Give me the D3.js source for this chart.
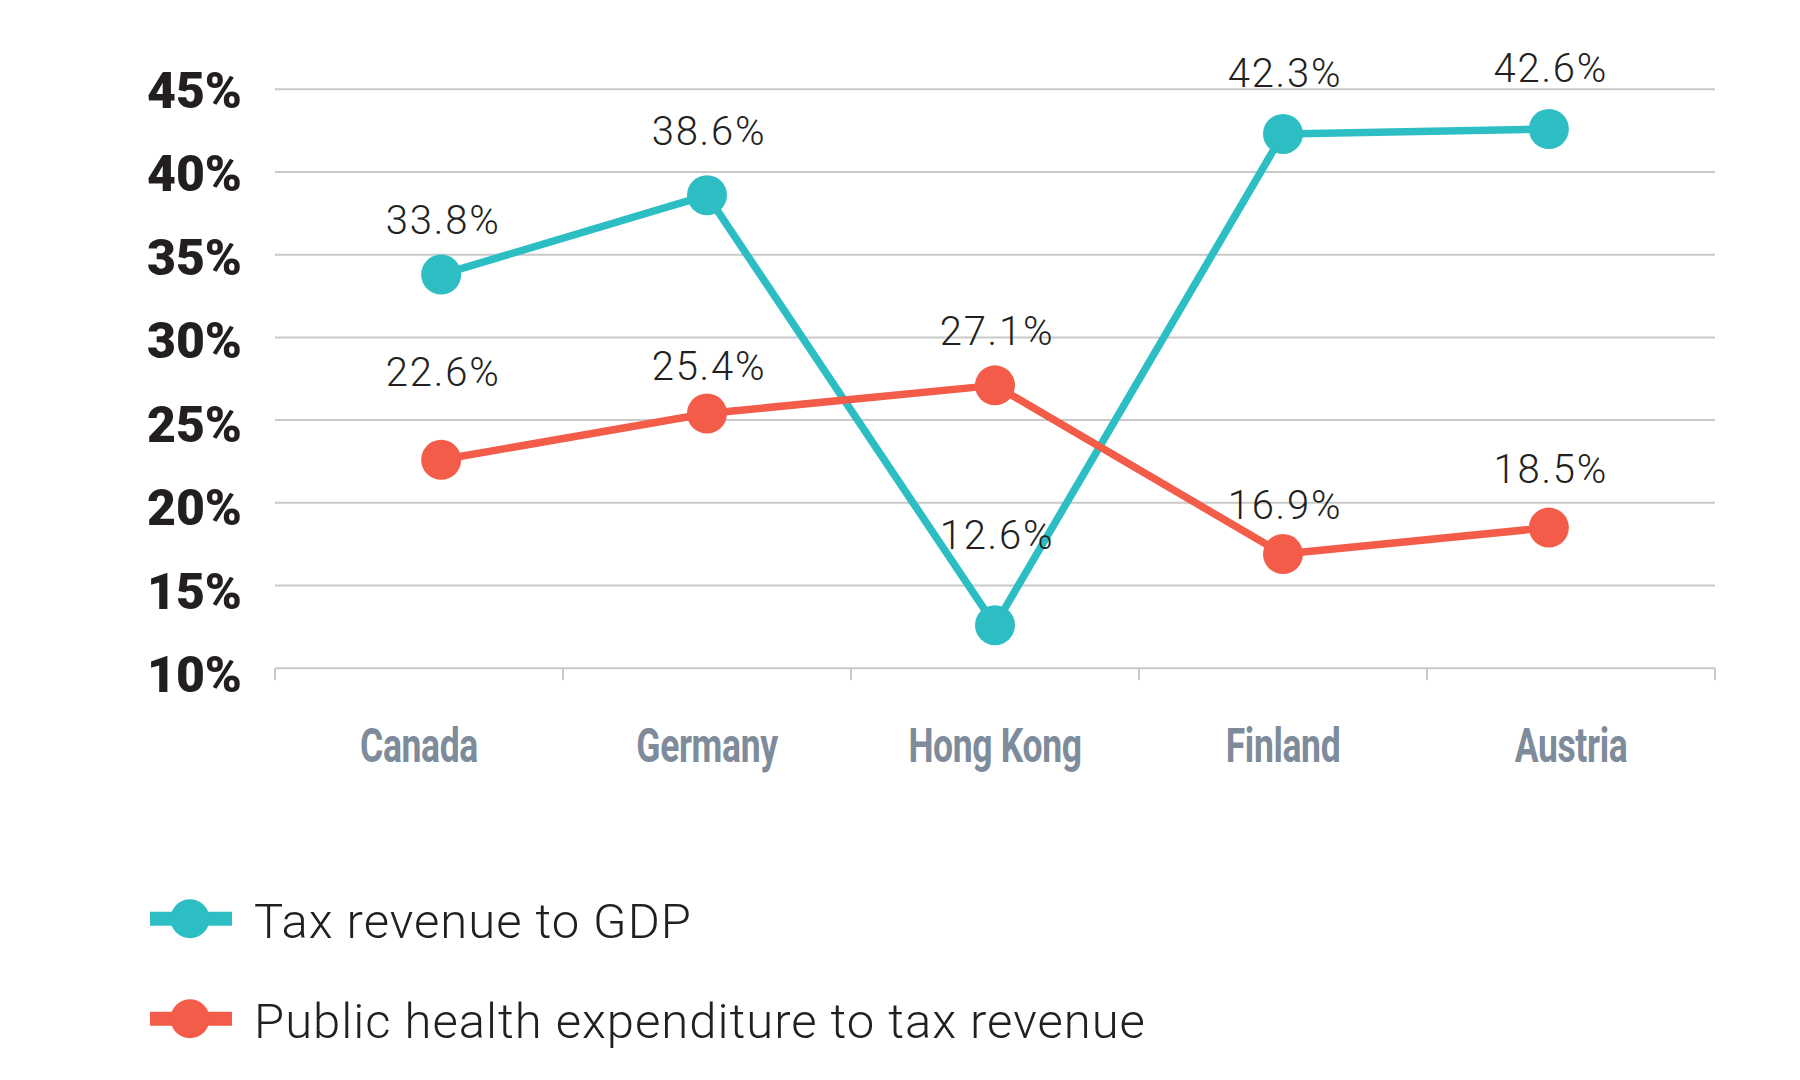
<!DOCTYPE html>
<html>
<head>
<meta charset="utf-8">
<script src="https://cdn.jsdelivr.net/npm/d3@7"></script>
<style>
  html, body { margin: 0; padding: 0; background: #ffffff; }
  svg { display: block; }
</style>
</head>
<body>
<svg id="chart" width="1800" height="1080"></svg>
<script>
// ---------- data ----------
const categories = ["Canada", "Germany", "Hong Kong", "Finland", "Austria"];
const taxRevenueToGDP = [33.8, 38.6, 12.6, 42.3, 42.6];
const healthExpToTax = [22.6, 25.4, 27.1, 16.9, 18.5];
const yTicks = [10, 15, 20, 25, 30, 35, 40, 45];
const seriesNames = ["Tax revenue to GDP", "Public health expenditure to tax revenue"];

// ---------- layout / style ----------
const colors = ["#2dbec4", "#f25c49"];
const plotLeft = 275, plotRight = 1715, plotTop = 89.3, plotBottom = 668.2;
// vertical offset of each value label from its point (baseline)
const labelDy = [[-41, -50, -76, -47, -47], [-74, -33, -40, -35, -45]];

const svg = d3.select("#chart");

const y = d3.scaleLinear().domain([10, 45]).range([plotBottom, plotTop]);
const yLabel = d3.scaleLinear().domain([10, 45]).range([plotBottom + 6, plotTop + 0.5]);
const xBand = d3.scaleBand().domain(categories).range([plotLeft, plotRight]);
const xPoint = d3.scalePoint().domain(categories).range([plotLeft, plotRight]).padding(0.6);
// points sit at band centres, but the outer ones are pulled inward
const xClamp = d3.scaleLinear()
  .domain([xPoint(categories[0]), xPoint(categories[categories.length - 1])])
  .range([xPoint(categories[0]), xPoint(categories[categories.length - 1])])
  .clamp(true);
const xPos = c => xClamp(xBand(c) + xBand.bandwidth() / 2);

// gridlines
svg.append("g").selectAll("line").data(yTicks).join("line")
  .attr("x1", plotLeft).attr("x2", plotRight)
  .attr("y1", d => y(d)).attr("y2", d => y(d))
  .attr("stroke", "#c9c9c9").attr("stroke-width", 2);

// category tick marks at band boundaries
const boundaries = categories.map(c => xBand(c)).concat([plotRight]);
svg.append("g").selectAll("line").data(boundaries).join("line")
  .attr("x1", d => d).attr("x2", d => d)
  .attr("y1", plotBottom).attr("y2", plotBottom + 12)
  .attr("stroke", "#c9c9c9").attr("stroke-width", 2);

// y tick labels
svg.append("g").selectAll("text").data(yTicks).join("text")
  .attr("x", 242).attr("y", d => yLabel(d))
  .attr("dy", "0.36em")
  .attr("text-anchor", "end")
  .attr("font-family", "Roboto, 'DejaVu Sans', sans-serif")
  .attr("font-weight", 900)
  .attr("font-size", 50)
  .attr("fill", "#231f20")
  .text(d => d + "%");

// category labels (condensed look)
svg.append("g").selectAll("text").data(categories).join("text")
  .attr("transform", d => `translate(${xBand(d) + xBand.bandwidth() / 2},761.5) scale(0.74,1)`)
  .attr("text-anchor", "middle")
  .attr("font-family", "Roboto, 'DejaVu Sans', sans-serif")
  .attr("font-weight", 700)
  .attr("font-size", 48)
  .attr("fill", "#7e8b9b")
  .attr("letter-spacing", -0.5)
  .text(d => d);

// series
const series = [taxRevenueToGDP, healthExpToTax];
const line = d3.line().x((d, i) => xPos(categories[i])).y(d => y(d));

series.forEach((vals, s) => {
  const g = svg.append("g");
  g.append("path").datum(vals)
    .attr("d", line)
    .attr("fill", "none")
    .attr("stroke", colors[s])
    .attr("stroke-width", 7.5)
    .attr("stroke-linejoin", "round");
  g.selectAll("circle").data(vals).join("circle")
    .attr("cx", (d, i) => xPos(categories[i]))
    .attr("cy", d => y(d))
    .attr("r", 20)
    .attr("fill", colors[s]);
});

// value labels (drawn on top)
series.forEach((vals, s) => {
  svg.append("g").selectAll("text").data(vals).join("text")
    .attr("x", (d, i) => xPos(categories[i]) + 2)
    .attr("y", (d, i) => y(d) + labelDy[s][i])
    .attr("text-anchor", "middle")
    .attr("font-family", "Roboto, 'DejaVu Sans', sans-serif")
    .attr("font-weight", 300)
    .attr("font-size", 40)
    .attr("letter-spacing", 1.8)
    .attr("fill", "#231f20")
    .text(d => d.toFixed(1) + "%");
});

// legend
const legendY = [918.7, 1018.7];
seriesNames.forEach((name, s) => {
  const g = svg.append("g");
  g.append("line")
    .attr("x1", 150).attr("x2", 232)
    .attr("y1", legendY[s]).attr("y2", legendY[s])
    .attr("stroke", colors[s]).attr("stroke-width", 14);
  g.append("circle")
    .attr("cx", 190).attr("cy", legendY[s]).attr("r", 19.5)
    .attr("fill", colors[s]);
  g.append("text")
    .attr("x", 254).attr("y", legendY[s] + 19.6)
    .attr("font-family", "Roboto, 'DejaVu Sans', sans-serif")
    .attr("font-weight", 300)
    .attr("font-size", 49)
    .attr("letter-spacing", 1.0)
    .attr("fill", "#231f20")
    .text(name);
});
</script>
</body>
</html>
